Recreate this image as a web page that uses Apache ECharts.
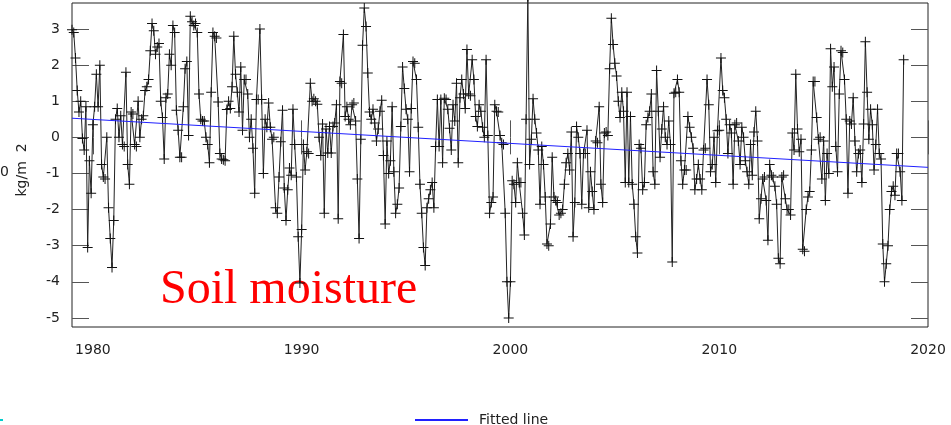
<!DOCTYPE html>
<html><head><meta charset="utf-8">
<script src="https://cdn.jsdelivr.net/npm/echarts@6/dist/echarts.min.js"></script>
<style>html,body{margin:0;padding:0;background:#fff}#c{width:951px;height:425px}</style>
</head><body><div id="c"></div>
<script>
// ---- data (monthly anomalies, kg/m^2), starting Jan 1979 ----
const startYear = 1979;
const soil_1979_1988 = [
  2.98, 2.9, 2.2, 1.3, 0.7, 1.0, -0.03, -0.35, 0.85, -3.05, -0.65, -1.55,
  0.35, 0.85, 1.75, 0.85, 2.0, -0.75, -1.1, -1.15, 0.0, -1.95, -2.8, -3.6,
  -2.3, 0.5, 0.8, 0.0, 0.6, -0.2, -0.25, 1.8, -0.75, -1.3, 0.7, 0.65,
  -0.2, -0.25, 1.0, 0.0, 0.5, 0.6, 1.3, 1.4, 1.6, 2.4, 3.15, 2.95,
  2.3, 2.5, 2.6, 1.0, 0.55, -0.6, 1.1, 1.2, 2.3, 2.0, 3.1, 2.9,
  0.75, 0.2, -0.55, -0.55, 0.85, 1.9, 2.1, 0.05, 3.35, 3.2, 3.1, 3.15,
  2.9, 1.2, 0.5, 0.45, 0.45, 0.0, -0.2, -0.7, 1.25, 2.9, 2.8, 2.75,
  0.98, -0.45, -0.6, -0.62, -0.65, 0.77, 1.0, 0.8, 1.4, 2.8, 1.75, 1.25,
  0.7, 1.95, 0.2, 1.6, 1.6, 1.2, 0.0, 0.5, -0.3, -1.55, 1.05, 1.05,
  3.0, 1.05, -1.0, 0.5, 0.28, 0.95, 0.28, -0.05, 0.0, -1.95, -2.1, -1.1
];
const soil_1989_1998 = [
  -0.12, 0.75, -1.4, -2.3, -1.45, -0.85, -1.05, 0.78, -0.2, -1.1, -2.75, -4.03,
  -2.55, -0.2, -0.9, -0.4, -0.45, 1.5, 1.0, 1.07, 1.0, 0.92, 0.0, -0.5,
  0.37, -2.1, 0.23, -0.43, 0.3, -0.43, 0.3, 0.4, 0.9, -2.25, 1.55, 1.5,
  2.85, 0.58, 0.85, 0.5, 0.35, 0.9, 0.95, 0.45, -1.15, -2.8, -0.05, 2.55,
  3.58, 3.07, 1.78, 0.7, 0.5, 0.78, 0.4, -0.1, 0.23, 0.72, 1.03, -0.5,
  -2.4, -0.1, -1.0, -0.65, 0.85, -0.95, -2.1, -1.85, -1.4, 0.3, 1.95, 1.35,
  0.78, 0.5, -0.95, 0.8, 2.1, 2.05, 1.6, 0.28, -1.3, -2.1, -3.05, -3.55,
  -1.95, -1.7, -1.45, -1.25, -1.95, -0.25, 1.05, -0.25, 1.05, -0.7, 1.08, 1.05,
  0.78, 0.25, -0.35, 0.9, 0.45, 1.5, -0.7, 1.1, 1.6, 1.2, 0.8, 2.43,
  1.2, 1.15, 2.15, 1.6, 0.58, 0.3, 0.9, 0.72, 0.28, 0.0, 2.15, 0.05
];
const soil_1999_2008 = [
  -2.1, -1.8, -1.65, 0.9, 0.72, 0.7, 0.05, -0.15, -0.2, -2.1, -4.0, -5.0,
  -4.0, -1.2, -1.3, -1.8, -0.7, -1.25, -1.25, -2.1, -2.7, 0.5, 3.9, -0.75,
  -0.05, 1.07, 0.5, 0.12, -0.35, -1.85, -0.25, -0.75, -1.65, -2.95, -3.0, -2.4,
  -0.55, -1.65, -1.75, -1.8, -2.15, -2.1, -2.0, -1.3, -0.7, -0.45, -0.9, 0.15,
  -2.75, -1.8, 0.3, 0.0, -0.45, -1.85, -0.45, -0.45, 0.2, -1.95, -0.95, -1.5,
  -2.0, -0.1, -0.15, 0.85, -1.3, -1.8, 0.12, 0.15, 0.05, 1.9, 3.3, 2.57,
  2.05, 1.7, 1.0, 0.55, 1.25, 0.72, -1.25, 1.25, -1.25, 0.58, -1.3, -1.85,
  -2.75, -3.2, -0.2, -0.3, -1.45, -1.25, 0.35, 0.55, 0.72, 1.2, -0.95, -1.3,
  1.85, 0.72, -0.55, 0.23, 0.85, 0.0, -0.2, 0.45, -0.2, -3.45, 1.22, 1.25,
  1.6, 1.25, -0.65, -1.3, -0.9, -0.9, 0.58, 0.28, 0.0, -0.3, -1.45, -1.15
];
const soil_2009_2018 = [
  -0.75, -1.15, -1.45, -0.35, -0.3, 1.6, 0.9, -0.95, -0.75, 0.0, -1.25, 0.18,
  0.2, 2.2, 1.3, 1.1, 0.5, -0.45, 0.35, 0.12, -1.3, 0.35, 0.4, -0.1,
  -0.75, 0.28, 0.0, -0.65, -0.95, -1.3, -0.2, -1.05, 0.15, 0.72, -0.1, -2.25,
  -1.7, -1.15, -1.1, -1.75, -2.85, -0.75, -1.05, -1.1, -1.35, -1.85, -3.35, -3.5,
  -1.1, -1.05, -1.7, -2.0, -2.0, -2.15, 0.12, -0.35, 1.75, 0.23, -0.4, -0.05,
  -3.1, -3.15, -2.0, -1.65, -1.5, -0.35, 1.55, 1.55, 0.55, -0.05, 0.0, -1.15,
  -0.1, -1.75, -0.45, -1.0, 2.45, 1.4, 1.95, -0.25, -0.95, 1.2, 2.4, 2.35,
  1.6, 0.5, -1.55, 0.45, 0.37, 1.1, -0.1, -0.95, -0.45, -0.35, -1.25, 0.37,
  2.65, 1.25, -0.05, 0.78, 0.35, -0.9, -0.2, 0.78, -0.45, -0.6, -2.95, -4.0,
  -3.5, -3.0, -2.0, -1.5, -1.35, -1.6, -0.45, -0.45, -0.95, -1.75, 2.15
];
const fitYears = [1979, 2020];
const fitValues = [0.53, -0.83];
const xTicks = [1980, 1990, 2000, 2010, 2020];
const yTicks = [-5, -4, -3, -2, -1, 0, 1, 2, 3];
const fitName = 'Fitted line';
const titleText = 'Soil moisture';
const unitText = 'kg/m  2';

// ---- build ----
const values = [].concat(soil_1979_1988, soil_1989_1998, soil_1999_2008, soil_2009_2018);
const soilData = values.map((v, i) => [startYear + i / 12, v]);
const fitData = fitYears.map((y, i) => [y, fitValues[i]]);

const font = 'DejaVu Sans';
const tickStyle = { color: '#555', width: 1 };
const chart = echarts.init(document.getElementById('c'), null, { renderer: 'canvas' });
chart.setOption({
  animation: false,
  backgroundColor: '#fff',
  grid: { left: 72, top: 3, right: 23, bottom: 98, show: true, borderColor: '#222', borderWidth: 1, outerBoundsMode: 'none', containLabel: false },
  xAxis: [
    { type: 'value', min: 1979, max: 2020, position: 'bottom',
      axisLine: { show: false }, splitLine: { show: false },
      axisTick: { show: true, inside: true, length: 17, customValues: xTicks, lineStyle: tickStyle },
      axisLabel: { show: true, customValues: xTicks, margin: 16, fontSize: 14, color: '#222', fontFamily: font,
        formatter: v => String(Math.round(v)) } },
    { type: 'value', min: 1979, max: 2020, position: 'top',
      axisLine: { show: false }, splitLine: { show: false },
      axisTick: { show: true, inside: true, length: 17, customValues: xTicks, lineStyle: tickStyle },
      axisLabel: { show: false } }
  ],
  yAxis: [
    { type: 'value', min: -5.25, max: 3.72, position: 'left',
      axisLine: { show: false }, splitLine: { show: false },
      axisTick: { show: true, inside: true, length: 17, customValues: yTicks, lineStyle: tickStyle },
      axisLabel: { show: true, customValues: yTicks, margin: 12, fontSize: 14, color: '#222', fontFamily: font } },
    { type: 'value', min: -5.25, max: 3.72, position: 'right',
      axisLine: { show: false }, splitLine: { show: false },
      axisTick: { show: true, inside: true, length: 17, customValues: yTicks, lineStyle: tickStyle },
      axisLabel: { show: false } }
  ],
  legend: {
    data: [fitName], left: 409, top: 408, itemWidth: 53, itemHeight: 14,
    itemStyle: { opacity: 0 },
    textStyle: { fontSize: 14, color: '#222', fontFamily: font, padding: [0, 0, 0, 6] }
  },
  series: [
    { name: 'Soil', type: 'line', data: soilData, clip: false,
      symbol: 'path://M0,4.5L10,4.5L10,5.5L0,5.5Z M4.5,0L5.5,0L5.5,10L4.5,10Z', symbolSize: [10, 10],
      itemStyle: { color: '#111' }, lineStyle: { color: '#222', width: 1 }, z: 2 },
    { name: fitName, type: 'line', data: fitData, symbol: 'none',
      lineStyle: { color: '#2020ff', width: 1 }, itemStyle: { color: '#2020ff' }, z: 3 }
  ],
  graphic: [
    { type: 'text', x: 160, y: 290, style: { text: titleText, fill: '#ff0000', font: '48px "Liberation Serif"', verticalAlign: 'middle', align: 'left' } },
    { type: 'text', x: 22, y: 170, rotation: Math.PI / 2, style: { text: unitText, fill: '#222', font: '14px "DejaVu Sans"', verticalAlign: 'middle', align: 'center' } },
    { type: 'text', x: 0, y: 172, style: { text: '0', fill: '#222', font: '14px "DejaVu Sans"', verticalAlign: 'middle', align: 'left' } },
    { type: 'rect', shape: { x: 0, y: 419, width: 3, height: 2 }, style: { fill: '#00cccc' } }
  ]
});
</script>
</body></html>
